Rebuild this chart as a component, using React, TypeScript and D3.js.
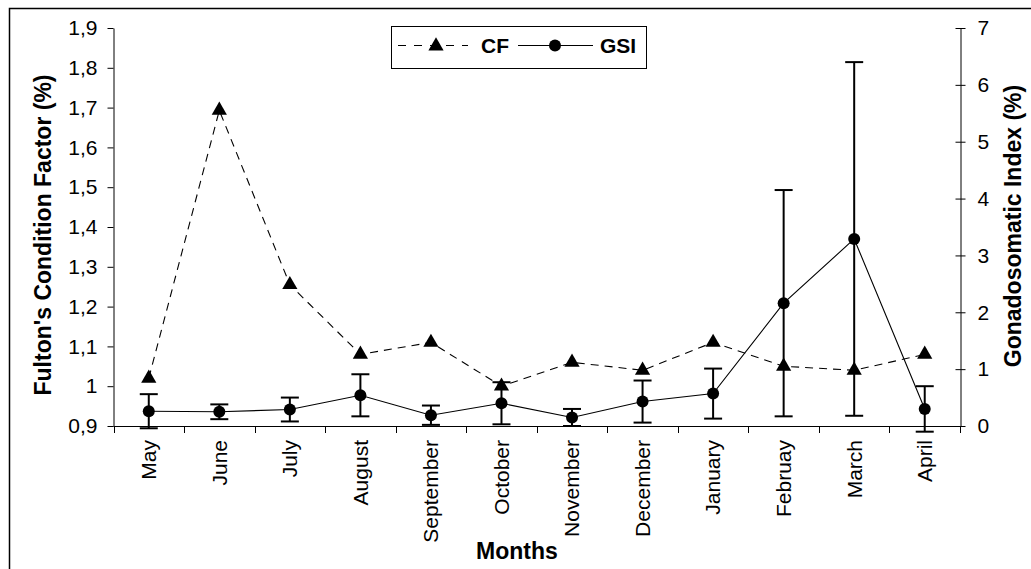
import React, { useEffect, useRef } from "react";
import * as d3 from "d3";

const width = 1031;
const height = 569;
const margin = { top: 28, right: 71, bottom: 143, left: 113.5 };
const font = "'Liberation Sans', Arial, Helvetica, sans-serif";

// data
const months = ["May", "June", "July", "August", "September", "October", "November", "December", "January", "Februay", "March", "April"];
const cf = [1.02, 1.693, 1.255, 1.08, 1.11, 1.0, 1.06, 1.04, 1.11, 1.05, 1.04, 1.08];
const gsi = [0.26, 0.25, 0.29, 0.54, 0.19, 0.40, 0.15, 0.43, 0.57, 2.16, 3.29, 0.30];
const gsiSd = [0.30, 0.13, 0.21, 0.37, 0.17, 0.37, 0.15, 0.37, 0.44, 1.99, 3.11, 0.40];

const cfTicks = [0.9, 1.0, 1.1, 1.2, 1.3, 1.4, 1.5, 1.6, 1.7, 1.8, 1.9];
const gsiTicks = [0, 1, 2, 3, 4, 5, 6, 7];
const legendLabels = ["CF", "GSI"];

const leftTitle = "Fulton's Condition Factor (%)";
const rightTitle = "Gonadosomatic Index (%)";
const xTitle = "Months";

function App() {
  const ref = useRef<SVGSVGElement>(null);

  useEffect(() => {
    const svg = d3.select(ref.current);
    svg.selectAll("*").remove();

    const x0 = margin.left, x1 = width - margin.right;
    const yTop = margin.top, yBot = height - margin.bottom;

    // ------- scales -------
    const x = d3.scaleBand<string>().domain(months).range([x0, x1]);
    const cx = (i: number) => (x(months[i]) as number) + x.bandwidth() / 2;
    const yL = d3.scaleLinear().domain([0.9, 1.9]).range([yBot, yTop]);
    const yR = d3.scaleLinear().domain([0, 7]).range([yBot, yTop]);

    // outer chart border
    svg.append("rect")
      .attr("x", 9.5).attr("y", 8.5)
      .attr("width", width + 20).attr("height", height + 20)
      .attr("fill", "none").attr("stroke", "#000").attr("stroke-width", 1.5);

    // ------- axes -------
    const fmt = (d: any) => (+d).toFixed(1).replace(/\.0$/, "").replace(".", ",");
    const left = svg.append("g")
      .attr("transform", `translate(${x0},0)`)
      .call(d3.axisLeft(yL).tickValues(cfTicks).tickSize(6).tickSizeOuter(0).tickPadding(10).tickFormat(fmt));
    left.attr("font-family", font).attr("font-size", 21);

    const right = svg.append("g")
      .attr("transform", `translate(${x1 + 0.5},0)`)
      .call(d3.axisRight(yR).tickValues(gsiTicks).tickSize(5).tickSizeOuter(0).tickPadding(12).tickFormat(d3.format("d")));
    right.attr("font-family", font).attr("font-size", 21);
    right.selectAll(".tick line").attr("x1", -5);

    const bottom = svg.append("g");
    bottom.append("line")
      .attr("x1", x0).attr("x2", x1 + 0.5)
      .attr("y1", yBot + 0.5).attr("y2", yBot + 0.5)
      .attr("stroke", "#000");
    const bounds = months.map(m => x(m) as number).concat([x1]);
    bottom.selectAll("line.tk")
      .data(bounds)
      .join("line")
      .attr("class", "tk")
      .attr("x1", d => Math.round(d) + 0.5).attr("x2", d => Math.round(d) + 0.5)
      .attr("y1", yBot).attr("y2", yBot + 7)
      .attr("stroke", "#000");
    bottom.selectAll("text")
      .data(months)
      .join("text")
      .attr("transform", (d, i) => `translate(${cx(i)},${yBot + 14}) rotate(-90)`)
      .attr("text-anchor", "end")
      .attr("dy", "0.35em")
      .attr("font-family", font).attr("font-size", 21)
      .text(d => d);

    // titles
    svg.append("text")
      .attr("transform", `translate(51,235) rotate(-90)`)
      .attr("text-anchor", "middle")
      .attr("font-family", font).attr("font-size", 23).attr("font-weight", "bold")
      .text(leftTitle);
    svg.append("text")
      .attr("transform", `translate(1021,226) rotate(-90)`)
      .attr("text-anchor", "middle")
      .attr("font-family", font).attr("font-size", 23).attr("font-weight", "bold")
      .text(rightTitle);
    svg.append("text")
      .attr("x", 517).attr("y", 559)
      .attr("text-anchor", "middle")
      .attr("font-family", font).attr("font-size", 23).attr("font-weight", "bold")
      .text(xTitle);

    // ------- series -------
    const chart = svg.append("g");
    const tri = d3.symbol().type(d3.symbolTriangle).size(100);

    const gsiLine = d3.line<number>().x((d, i) => cx(i)).y(d => yR(d));
    chart.append("path")
      .attr("d", gsiLine(gsi))
      .attr("fill", "none").attr("stroke", "#000").attr("stroke-width", 1.1);

    const cfLine = d3.line<number>().x((d, i) => cx(i)).y(d => yL(d));
    chart.append("path")
      .attr("d", cfLine(cf))
      .attr("fill", "none").attr("stroke", "#000").attr("stroke-width", 1.1)
      .attr("stroke-dasharray", "8,6");

    // error bars
    const eb = chart.selectAll("g.eb")
      .data(gsi)
      .join("g")
      .attr("class", "eb")
      .attr("stroke", "#000").attr("stroke-width", 2);
    eb.append("line")
      .attr("x1", (d, i) => cx(i)).attr("x2", (d, i) => cx(i))
      .attr("y1", (d, i) => yR(d - gsiSd[i])).attr("y2", (d, i) => yR(d + gsiSd[i]));
    eb.append("line")
      .attr("x1", (d, i) => cx(i) - 9).attr("x2", (d, i) => cx(i) + 9)
      .attr("y1", (d, i) => yR(d + gsiSd[i])).attr("y2", (d, i) => yR(d + gsiSd[i]));
    eb.append("line")
      .attr("x1", (d, i) => cx(i) - 9).attr("x2", (d, i) => cx(i) + 9)
      .attr("y1", (d, i) => yR(d - gsiSd[i])).attr("y2", (d, i) => yR(d - gsiSd[i]));

    chart.selectAll("circle")
      .data(gsi)
      .join("circle")
      .attr("cx", (d, i) => cx(i)).attr("cy", d => yR(d))
      .attr("r", 6).attr("fill", "#000");

    chart.selectAll("path.tri")
      .data(cf)
      .join("path")
      .attr("class", "tri")
      .attr("transform", (d, i) => `translate(${cx(i)},${yL(d)})`)
      .attr("d", tri() as string)
      .attr("fill", "#000");

    // ------- legend -------
    const lg = svg.append("g");
    lg.append("rect")
      .attr("x", 391.5).attr("y", 26.5).attr("width", 255).attr("height", 42)
      .attr("fill", "#fff").attr("stroke", "#000");
    lg.append("line")
      .attr("x1", 398).attr("x2", 468).attr("y1", 45.5).attr("y2", 45.5)
      .attr("stroke", "#000").attr("stroke-dasharray", "8,8");
    lg.append("path")
      .attr("transform", "translate(436,46)")
      .attr("d", tri() as string).attr("fill", "#000");
    lg.append("line")
      .attr("x1", 518).attr("x2", 593).attr("y1", 45.5).attr("y2", 45.5)
      .attr("stroke", "#000");
    lg.append("circle")
      .attr("cx", 555).attr("cy", 45.5).attr("r", 6).attr("fill", "#000");
    lg.selectAll("text")
      .data(legendLabels)
      .join("text")
      .attr("x", (d, i) => (i === 0 ? 481 : 600))
      .attr("y", 53)
      .attr("font-family", font).attr("font-size", 21).attr("font-weight", "bold")
      .text(d => d);
  }, []);

  return (
    <svg
      ref={ref}
      width={width}
      height={height}
      style={{ position: "fixed", left: 0, top: 0, background: "#fff" }}
    />
  );
}

export default App;
